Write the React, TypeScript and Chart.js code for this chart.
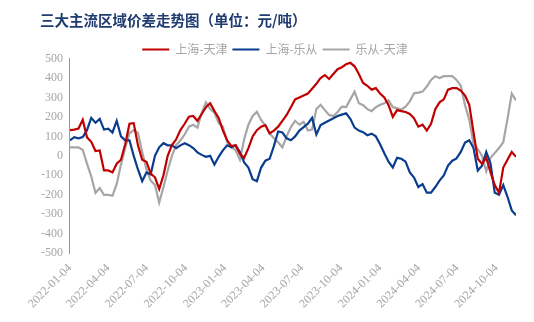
import React, { useEffect, useRef } from 'react';
import { Chart, registerables } from 'chart.js';

Chart.register(...registerables);

const TITLE = '三大主流区域价差走势图（单位：元/吨）';
const seriesNames = ['上海-天津', '上海-乐从', '乐从-天津'];
const seriesColors = ['#c00000', '#0b3d8f', '#a6a6a6'];

const tickLabels = [
  '2022-01-04', '2022-04-04', '2022-07-04', '2022-10-04',
  '2023-01-04', '2023-04-04', '2023-07-04', '2023-10-04',
  '2024-01-04', '2024-04-04', '2024-07-04', '2024-10-04',
];

const dates = [
  '2022-01-04', '2022-01-14', '2022-01-24', '2022-02-03', '2022-02-13', '2022-02-23', '2022-03-05', '2022-03-15', '2022-03-25', '2022-04-04',
  '2022-04-14', '2022-04-24', '2022-05-04', '2022-05-14', '2022-05-24', '2022-06-03', '2022-06-13', '2022-06-23', '2022-07-03', '2022-07-13',
  '2022-07-23', '2022-08-02', '2022-08-12', '2022-08-22', '2022-09-01', '2022-09-11', '2022-09-21', '2022-10-01', '2022-10-11', '2022-10-21',
  '2022-10-31', '2022-11-10', '2022-11-20', '2022-11-30', '2022-12-10', '2022-12-20', '2022-12-30',
  '2023-01-09', '2023-01-19', '2023-01-29', '2023-02-08', '2023-02-18', '2023-02-28', '2023-03-10', '2023-03-20', '2023-03-30', '2023-04-09',
  '2023-04-19', '2023-04-29', '2023-05-09', '2023-05-19', '2023-05-29', '2023-06-08', '2023-06-18', '2023-06-28', '2023-07-08', '2023-07-18',
  '2023-07-28', '2023-08-07', '2023-08-17', '2023-08-27', '2023-09-06', '2023-09-16', '2023-09-26', '2023-10-06', '2023-10-16', '2023-10-26',
  '2023-11-05', '2023-11-15', '2023-11-25', '2023-12-05', '2023-12-15', '2023-12-25',
  '2024-01-04', '2024-01-14', '2024-01-24', '2024-02-03', '2024-02-13', '2024-02-23', '2024-03-04', '2024-03-14', '2024-03-24', '2024-04-03',
  '2024-04-13', '2024-04-23', '2024-05-03', '2024-05-13', '2024-05-23', '2024-06-02', '2024-06-12', '2024-06-22', '2024-07-02', '2024-07-12',
  '2024-07-22', '2024-08-01', '2024-08-11', '2024-08-21', '2024-08-31', '2024-09-10', '2024-09-20', '2024-09-30', '2024-10-10', '2024-10-20',
  '2024-10-30', '2024-11-09', '2024-11-19',
];

// 上海-天津
const shanghaiTianjin = [
  132, 135, 140, 185, 95, 72, 25, 28, -75, -75,
  -85, -40, -20, 60, 165, 168, 54, -20, -30, -91,
  -110, -170, -100, 0, 55, 85, 132, 165, 201, 205,
  180, 215, 250, 270, 230, 195, 130, 80, 50, 54,
  10, -10, 40, 100, 132, 150, 158, 115, 130, 150,
  180, 210, 250, 290, 300, 310, 320, 345, 370, 400,
  415, 395, 420, 445, 455, 470, 478, 460, 420, 374,
  360, 340, 348, 320, 300, 260, 200, 235, 230, 225,
  215, 193, 150, 160, 130, 165, 240, 275, 290, 340,
  348, 348, 335, 310, 262, 120, -15, -40, -10, -85,
  -150, -190, -60, -20, 20, -5,
];

// 上海-乐从
const shanghaiLecong = [
  80, 96, 90, 96, 132, 195, 170, 190, 135, 140,
  120, 180, 100, 80, 80, 0, -70, -130, -85, -95,
  0, 44, 65, 54, 54, 40, 54, 65, 55, 40,
  18, 5, -5, 0, -45, -5, 28, 54, 44, 54,
  20, -34, -60, -120, -130, -60, -25, -15, 50, 125,
  120, 90, 80, 100, 130, 148, 165, 195, 110, 158,
  170, 182, 193, 205, 212, 219, 190, 145, 130, 122,
  106, 114, 100, 60, 13, -30, -60, -10, -15, -30,
  -85, -111, -160, -145, -189, -189, -160, -127, -100, -50,
  -25, -13, 20, 68, 80, 40, -75, -50, 20, -39,
  -190, -200, -150, -210, -280, -305,
];

// 乐从-天津
const lecongTianjin = [
  44, 44, 44, 30, -40, -105, -190, -165, -200, -200,
  -205, -144, -45, 40, 116, 132, 118, 20, -70, -127,
  -150, -240, -160, -75, 0, 55, 80, 110, 150, 160,
  145, 220, 275, 240, 222, 168, 150, 70, 45, 30,
  -20, 85, 160, 205, 226, 184, 155, 115, 90, 70,
  44, 100, 148, 180, 160, 175, 130, 135, 240, 262,
  235, 210, 205, 225, 253, 250, 290, 330, 270, 260,
  240, 230, 250, 262, 270, 285, 250, 245, 238, 253,
  280, 321, 325, 330, 356, 390, 409, 400, 409, 409,
  409, 390, 360, 260, 185, 60, 35, 0, -80, -10,
  15, 40, 70, 190, 320, 285,
];

const DAY = 86400000;
const START = Date.parse(dates[0] + 'T00:00:00Z');
const dayOffset = (s: string) => Math.round((Date.parse(s + 'T00:00:00Z') - START) / DAY);

export default function App() {
  const ref = useRef<HTMLCanvasElement | null>(null);

  useEffect(() => {
    if (!ref.current) return;
    const allSeries = [shanghaiTianjin, shanghaiLecong, lecongTianjin];
    const titlePlugin = {
      id: 'customTitle',
      afterDraw(chart: any) {
        const ctx = chart.ctx;
        ctx.save();
        ctx.font = 'bold 14.5px "Noto Sans CJK SC", sans-serif';
        ctx.fillStyle = '#1f3b6f';
        ctx.textBaseline = 'middle';
        ctx.textAlign = 'left';
        ctx.fillText(TITLE, 40, 20.5);
        ctx.restore();
      },
    };
    const chart = new Chart(ref.current, {
      type: 'line',
      data: {
        datasets: allSeries.map((vals, k) => ({
          label: seriesNames[k],
          data: vals.map((v, i) => ({ x: dayOffset(dates[i]), y: v })),
          borderColor: seriesColors[k],
          backgroundColor: seriesColors[k],
          borderWidth: 2.2,
          pointRadius: 0,
          pointStyle: 'line',
          tension: 0,
          fill: false,
        })),
      },
      options: {
        animation: false,
        responsive: false,
        devicePixelRatio: 1,
        layout: { padding: { top: 38.5, left: 34, right: 18, bottom: 3 } },
        plugins: {
          title: { display: false },
          tooltip: { enabled: false },
          legend: {
            display: true,
            position: 'top',
            align: 'center',
            maxHeight: 20,
            labels: {
              usePointStyle: true,
              pointStyleWidth: 27,
              boxWidth: 27,
              padding: 5,
              color: '#a6a6a6',
              font: { family: '"Noto Sans CJK SC", sans-serif', size: 12 },
            },
          },
        },
        scales: {
          x: {
            type: 'linear',
            min: 0,
            max: dayOffset(dates[dates.length - 1]),
            grid: { display: false, drawTicks: false },
            border: { display: false },
            afterBuildTicks: (scale: any) => {
              scale.ticks = tickLabels.map((t) => ({ value: dayOffset(t) }));
            },
            ticks: {
              autoSkip: false,
              minRotation: 45,
              maxRotation: 45,
              padding: 8,
              color: '#a6a6a6',
              font: { family: '"Liberation Serif", "Times New Roman", serif', size: 12 },
              callback: (_v: any, i: number) => tickLabels[i],
            },
          },
          y: {
            type: 'linear',
            min: -500,
            max: 500,
            grid: { display: false, drawTicks: false },
            border: { display: true, color: '#999999', width: 1 },
            ticks: {
              stepSize: 100,
              padding: 7,
              color: '#a6a6a6',
              font: { family: '"Liberation Serif", "Times New Roman", serif', size: 12 },
            },
          },
        },
      },
      plugins: [titlePlugin],
    } as any);
    return () => chart.destroy();
  }, []);

  return (
    <div style={{ position: 'fixed', left: 0, top: 0, width: 534, height: 322, background: '#ffffff' }}>
      <canvas ref={ref} width={534} height={322} />
    </div>
  );
}
